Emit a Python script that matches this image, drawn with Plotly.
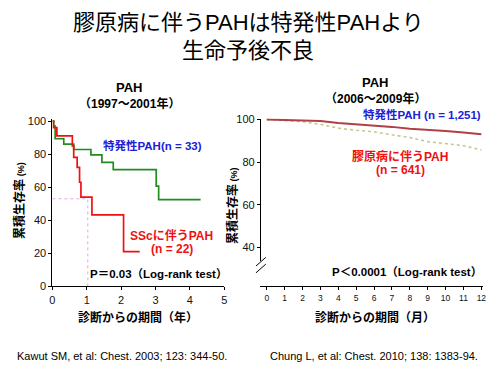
import plotly.graph_objects as go

# ---------------- data ----------------
# Left chart: Kaplan-Meier (years)
idio_left_t = [0, 0.04, 0.08, 0.33, 0.62, 1.12, 1.44, 1.77, 3.02, 3.09, 4.31]
idio_left_s = [100, 97, 89.3, 86, 82.8, 79.5, 75, 70.6, 60.7, 52.5, 52.5]
ssc_left_t = [0, 0.03, 0.13, 0.58, 0.62, 0.72, 0.79, 0.83, 1.15, 2.07, 2.54]
ssc_left_s = [100, 96, 91, 85, 78, 72, 63, 54, 43.3, 21, 21]
median_t = 1.03
median_s = 53
left_xticks = [0, 1, 2, 3, 4, 5]
left_yticks = [0, 20, 40, 60, 80, 100]

# Right chart: survival (months)
months = [0, 1, 2, 3, 4, 5, 6, 7, 8, 9, 10, 11, 12]
idio_right = [100, 99.8, 99.5, 99.2, 98.3, 97.8, 97.0, 96.5, 95.6, 95.2, 94.6, 93.9, 93.0]
ctd_right = [100, 99.5, 98.9, 97.7, 95.9, 94.9, 94.2, 92.8, 91.5, 89.6, 88.8, 87.7, 85.7]
right_yticks_upper = [40, 60, 80, 100]
right_yticks_lower = [0]

W, H = 500, 373
FONT = "Liberation Sans, Arial, Noto Sans CJK JP, sans-serif"


def px(x):
    return x / W


def py(y):
    return 1 - y / H


fig = go.Figure()

# left chart traces
fig.add_trace(go.Scatter(x=[0, median_t, median_t], y=[median_s, median_s, 0],
                         mode="lines", line=dict(color="#e6a6e0", width=1, dash="dot"),
                         xaxis="x", yaxis="y", hoverinfo="skip"))
fig.add_trace(go.Scatter(x=idio_left_t, y=idio_left_s, mode="lines",
                         line=dict(color="#1e8c1e", width=1.7, shape="hv"),
                         xaxis="x", yaxis="y"))
fig.add_trace(go.Scatter(x=ssc_left_t, y=ssc_left_s, mode="lines",
                         line=dict(color="#f01010", width=1.7, shape="hv"),
                         xaxis="x", yaxis="y"))

# right chart traces
fig.add_trace(go.Scatter(x=months, y=ctd_right, mode="lines",
                         line=dict(color="#c8c88a", width=1.6, dash="dot"),
                         xaxis="x2", yaxis="y3"))
fig.add_trace(go.Scatter(x=months, y=idio_right, mode="lines",
                         line=dict(color="#b04048", width=2),
                         xaxis="x2", yaxis="y3"))

axis_common = dict(showline=True, linecolor="black", linewidth=1, showgrid=False,
                   zeroline=False, ticks="outside", tickcolor="black", ticklen=3,
                   fixedrange=True)

fig.update_layout(
    width=W, height=H,
    margin=dict(l=0, r=0, t=0, b=0),
    paper_bgcolor="white", plot_bgcolor="white",
    showlegend=False,
    font=dict(family=FONT, color="black"),
    xaxis=dict(domain=[px(50), px(224)], range=[0, 5], tickvals=left_xticks,
               anchor="y", tickfont=dict(size=11, color="#111"), **axis_common),
    yaxis=dict(domain=[py(290), py(117)], range=[0, 101.5], tickvals=left_yticks,
               anchor="x", tickfont=dict(size=11, color="#111"), **axis_common),
    xaxis2=dict(domain=[px(261), px(486)], range=[-0.33, 12.1], tickvals=months,
                anchor="y2", tickfont=dict(size=8.5, color="#111"), **axis_common),
    yaxis2=dict(domain=[py(288), py(276)], range=[0, 5.5], tickvals=right_yticks_lower,
                anchor="x2", tickfont=dict(size=11, color="#111"), **axis_common),
    yaxis3=dict(domain=[py(264), py(117)], range=[33.6, 100.4], tickvals=right_yticks_upper,
                anchor="x2", tickfont=dict(size=11, color="#111"), **axis_common),
)

# axis break marks
for y0 in (269, 276):
    fig.add_shape(type="line", xref="paper", yref="paper",
                  x0=px(256), y0=py(y0), x1=px(266), y1=py(y0 - 9),
                  line=dict(color="black", width=1))


def ann(text, x, y, size, color="black", bold=True, xanchor="center", angle=0):
    t = f"<b>{text}</b>" if bold else text
    fig.add_annotation(text=t, x=px(x), y=py(y), xref="paper", yref="paper",
                       showarrow=False, xanchor=xanchor, yanchor="middle",
                       textangle=angle, font=dict(size=size, color=color, family=FONT))


YTITLE = "累積生存率<span style='font-size:9px'> (%)</span>"

# main title
ann("膠原病に伴うPAHは特発性PAHより", 248, 18, 22, bold=False)
ann("生命予後不良", 248, 47, 22, bold=False)

# left panel texts
ann("PAH", 128, 85, 13)
ann("（1997〜2001年）", 128, 102, 12)
ann("特発性PAH(n = 33)", 151, 145, 11.5, color="#2020d8")
ann("SScに伴うPAH", 171, 237, 12, color="#ee1111")
ann("(n = 22)", 171, 251, 12, color="#ee1111")
ann("P＝0.03（Log-rank test）", 157, 277, 11.5)
ann(YTITLE, 16, 201, 12, angle=-90)
ann("診断からの期間（年）", 137, 322, 12)

# right panel texts
ann("PAH", 377, 80, 13)
ann("（2006〜2009年）", 377, 96, 12)
ann("特発性PAH (n = 1,251)", 486, 113, 11.5, color="#2020d8", xanchor="right")
ann("膠原病に伴うPAH", 402, 156, 12, color="#ee1111")
ann("(n = 641)", 402, 170, 12, color="#ee1111")
ann("P＜0.0001（Log-rank test）", 409, 275, 11.5)
ann(YTITLE, 233, 207, 12, angle=-90)
ann("診断からの期間（月）", 377, 322, 12)

# references
ann("Kawut SM, et al: Chest. 2003; 123: 344-50.", 12, 362, 11, bold=False, xanchor="left")
ann("Chung L, et al: Chest. 2010; 138: 1383-94.", 268, 362, 11, bold=False, xanchor="left")

fig.write_html("out.html", config={"displayModeBar": False},
               post_script="document.body.style.margin='0px';document.body.style.overflow='hidden';")
